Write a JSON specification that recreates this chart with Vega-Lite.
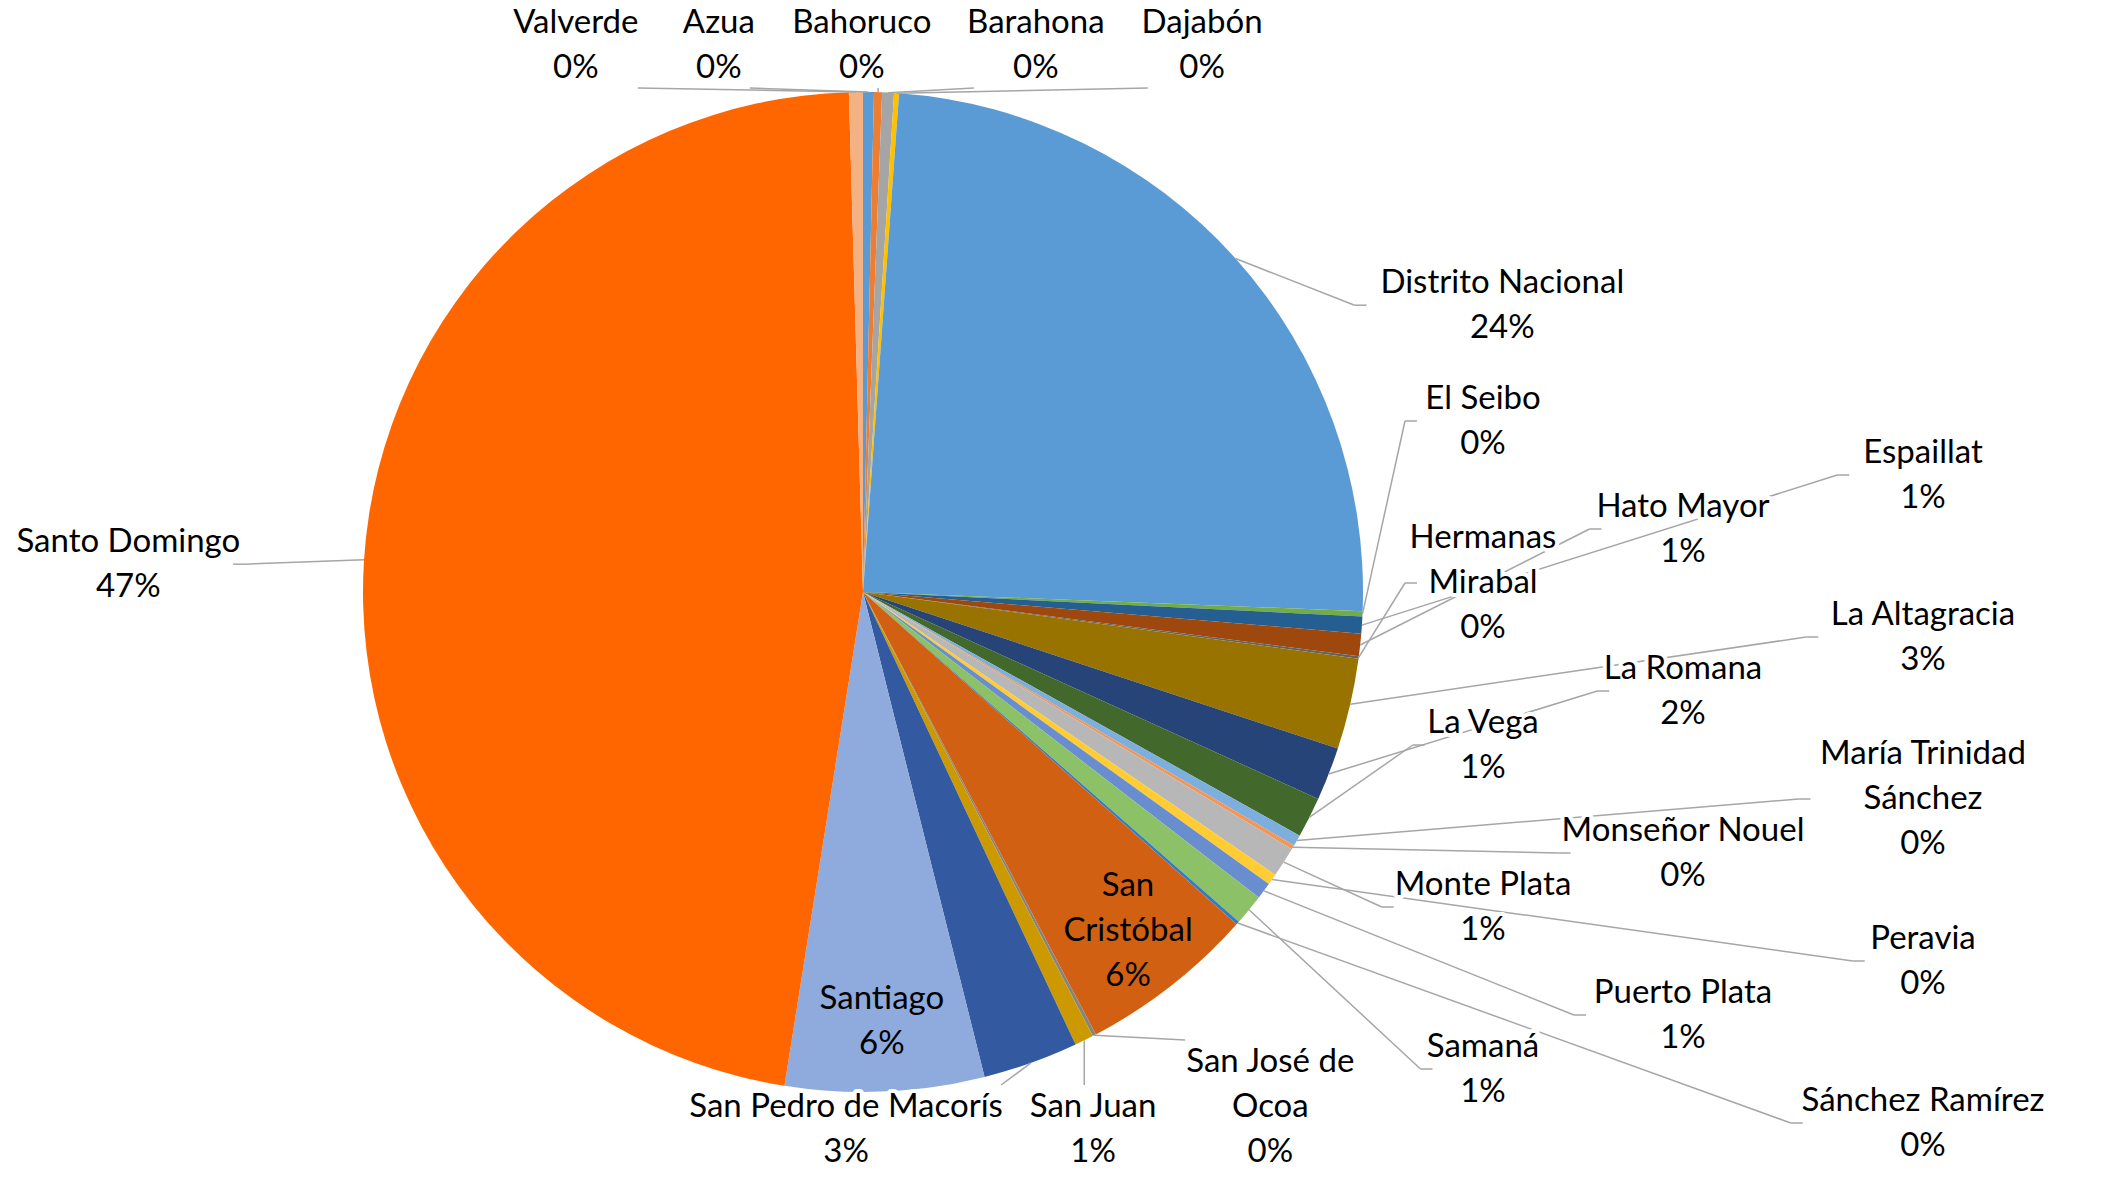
{
  "$schema": "https://vega.github.io/schema/vega-lite/v6.json",
  "width": 2118,
  "height": 1179,
  "autosize": {"type": "none"},
  "padding": 0,
  "background": "#ffffff",
  "config": {"view": {"stroke": null}},
  "data": {
    "values": [
      {"name": "Azua", "value": 0.35},
      {"name": "Bahoruco", "value": 0.26},
      {"name": "Barahona", "value": 0.38},
      {"name": "Dajabón", "value": 0.16},
      {"name": "Distrito Nacional", "value": 24.46},
      {"name": "El Seibo", "value": 0.17},
      {"name": "Espaillat", "value": 0.55},
      {"name": "Hato Mayor", "value": 0.72},
      {"name": "Hermanas Mirabal", "value": 0.08},
      {"name": "La Altagracia", "value": 2.94},
      {"name": "La Romana", "value": 1.72},
      {"name": "La Vega", "value": 1.31},
      {"name": "María Trinidad Sánchez", "value": 0.36},
      {"name": "Monseñor Nouel", "value": 0.14},
      {"name": "Monte Plata", "value": 0.97},
      {"name": "Peravia", "value": 0.36},
      {"name": "Puerto Plata", "value": 0.53},
      {"name": "Samaná", "value": 1.0},
      {"name": "Sánchez Ramírez", "value": 0.11},
      {"name": "San Cristóbal", "value": 5.72},
      {"name": "San José de Ocoa", "value": 0.11},
      {"name": "San Juan", "value": 0.61},
      {"name": "San Pedro de Macorís", "value": 3.08},
      {"name": "Santiago", "value": 6.42},
      {"name": "Santo Domingo", "value": 47.04},
      {"name": "Valverde", "value": 0.45}
    ]
  },
  "transform": [
    {"window": [{"op": "row_number", "as": "idx"}, {"op": "sum", "field": "value", "as": "cum"}], "frame": [null, 0]},
    {"joinaggregate": [{"op": "sum", "field": "value", "as": "total"}]},
    {"calculate": "2 * PI * (datum.cum - datum.value / 2) / datum.total", "as": "a"},
    {"calculate": "datum.value / datum.total", "as": "pct"},
    {"calculate": "datum.a * 180 / PI", "as": "deg"},
    {"calculate": "500 * sin(datum.a)", "as": "ex"},
    {"calculate": "-500 * cos(datum.a)", "as": "ey"},
    {"calculate": "datum.pct >= 0.1 ? 'big' : datum.pct >= 0.05 ? 'in' : (datum.deg > 330 || datum.deg < 30) ? 'top' : (datum.deg >= 140 && datum.deg <= 220) ? 'bot' : 'side'", "as": "zone"},
    {"calculate": "lastindexof(datum.name, ' ')", "as": "sp"},
    {"calculate": "datum.zone == 'in' ? datum.sp > 0 : (datum.pct < 0.005 && length(datum.name) >= 16)", "as": "wrap"},
    {"calculate": "datum.wrap ? slice(datum.name, 0, datum.sp) + '\\n' + slice(datum.name, datum.sp + 1) : datum.name", "as": "nm"},
    {"calculate": "datum.nm + '\\n' + format(datum.pct, '.0%')", "as": "label"},
    {"calculate": "datum.wrap ? 3 : 2", "as": "nl"},
    {"calculate": "15.5 * (datum.wrap ? max(datum.sp, length(datum.name) - datum.sp - 1) : length(datum.name))", "as": "w"},
    {"calculate": "(datum.zone == 'bot' ? 500 : 550) * sin(datum.a)", "as": "xn"},
    {"calculate": "datum.zone == 'side' ? datum.deg : datum.xn", "as": "key"},
    {"window": [{"op": "row_number", "as": "k"}, {"op": "lag", "field": "w", "as": "pw"}], "groupby": ["zone"], "sort": [{"field": "key", "order": "ascending"}]},
    {"calculate": "datum.k == 1 ? 0 : (datum.pw + datum.w) / 2 + (datum.zone == 'top' ? 50 : 30)", "as": "gap"},
    {"window": [{"op": "sum", "field": "gap", "as": "s"}], "groupby": ["zone"], "sort": [{"field": "key", "order": "ascending"}], "frame": [null, 0]},
    {"calculate": "datum.xn - datum.s", "as": "z"},
    {"window": [{"op": "max", "field": "z", "as": "cz"}], "groupby": ["zone"], "sort": [{"field": "key", "order": "ascending"}], "frame": [null, 0]},
    {"calculate": "datum.s + datum.cz", "as": "xa"},
    {"joinaggregate": [{"op": "mean", "field": "xa", "as": "mxa"}, {"op": "mean", "field": "xn", "as": "mxn"}, {"op": "count", "as": "n"}, {"op": "mean", "field": "ey", "as": "mey"}], "groupby": ["zone"]},
    {"calculate": "(datum.k - 1) % 3", "as": "col"},
    {"calculate": "datum.zone == 'in' ? 430 * sin(datum.a) : datum.zone == 'big' ? datum.ex + (datum.ex > 0 ? 1 : -1) * (135 + datum.w / 2) : datum.zone == 'side' ? (datum.col == 0 ? 620 : datum.col == 1 ? 1060 : 820) : datum.xa - datum.mxa + datum.mxn", "as": "lx"},
    {"calculate": "(datum.zone == 'in' || datum.zone == 'big') ? -430 * cos(datum.a) : datum.zone == 'top' ? -569 + (datum.nl - 1) * 22.5 : datum.zone == 'bot' ? 560 - (datum.nl - 1) * 22.5 : datum.mey - 13 + (datum.k - 1 - (datum.n - 1) / 2) * 54", "as": "cy"},
    {"calculate": "datum.cy - (datum.nl - 1) * 22.5", "as": "ly"},
    {"calculate": "datum.lx > datum.ex ? 1 : -1", "as": "dir"},
    {"calculate": "(datum.zone == 'top' || datum.zone == 'bot') ? clamp(datum.ex, datum.lx - datum.w / 2, datum.lx + datum.w / 2) : datum.lx - datum.dir * (datum.w / 2 + 4)", "as": "ax"},
    {"calculate": "datum.zone == 'top' ? datum.cy + (datum.nl - 1) * 22.5 + 20 : datum.zone == 'bot' ? datum.cy - (datum.nl - 1) * 22.5 - 22 : datum.cy", "as": "ay"},
    {"calculate": "(datum.zone == 'top' || datum.zone == 'bot') ? datum.ax : datum.ax - datum.dir * 12", "as": "bx"},
    {"calculate": "datum.ay", "as": "by"}
  ],
  "layer": [
    {
      "mark": {"type": "arc", "outerRadius": 500},
      "encoding": {
        "x": {"datum": 0, "type": "quantitative", "scale": {"domain": [-863, 1255], "nice": false, "zero": false}, "axis": null},
        "y": {"datum": 0, "type": "quantitative", "scale": {"domain": [-592, 587], "reverse": true, "nice": false, "zero": false}, "axis": null},
        "theta": {"field": "value", "type": "quantitative", "stack": true},
        "order": {"field": "idx", "type": "quantitative"},
        "color": {
          "field": "name",
          "type": "nominal",
          "legend": null,
          "scale": {
            "domain": ["Azua", "Bahoruco", "Barahona", "Dajabón", "Distrito Nacional", "El Seibo", "Espaillat", "Hato Mayor", "Hermanas Mirabal", "La Altagracia", "La Romana", "La Vega", "María Trinidad Sánchez", "Monseñor Nouel", "Monte Plata", "Peravia", "Puerto Plata", "Samaná", "Sánchez Ramírez", "San Cristóbal", "San José de Ocoa", "San Juan", "San Pedro de Macorís", "Santiago", "Santo Domingo", "Valverde"],
            "range": ["#5B9BD5", "#ED7D31", "#A5A5A5", "#FFC000", "#5B9BD5", "#70AD47", "#255E91", "#9E480E", "#636363", "#997300", "#264478", "#43682B", "#7CAFDD", "#F1975A", "#B7B7B7", "#FFCD33", "#698ED0", "#8CC168", "#327DC2", "#D26012", "#848484", "#CC9A00", "#335AA1", "#8FAADC", "#FF6600", "#F4B183"]
          }
        }
      }
    },
    {
      "transform": [{"filter": "datum.zone != 'in'"}],
      "mark": {"type": "rule", "color": "#A6A6A6", "strokeWidth": 1.5},
      "encoding": {
        "x": {"field": "ex", "type": "quantitative", "scale": {"domain": [-863, 1255], "nice": false, "zero": false}, "axis": null},
        "y": {"field": "ey", "type": "quantitative", "scale": {"domain": [-592, 587], "reverse": true, "nice": false, "zero": false}, "axis": null},
        "x2": {"field": "bx"},
        "y2": {"field": "by"}
      }
    },
    {
      "transform": [{"filter": "datum.zone != 'in'"}],
      "mark": {"type": "rule", "color": "#A6A6A6", "strokeWidth": 1.5},
      "encoding": {
        "x": {"field": "bx", "type": "quantitative", "scale": {"domain": [-863, 1255], "nice": false, "zero": false}, "axis": null},
        "y": {"field": "by", "type": "quantitative", "scale": {"domain": [-592, 587], "reverse": true, "nice": false, "zero": false}, "axis": null},
        "x2": {"field": "ax"},
        "y2": {"field": "ay"}
      }
    },
    {
      "transform": [{"filter": "datum.zone != 'in'"}],
      "mark": {"type": "text", "font": "Lato", "fontSize": 33, "lineHeight": 45, "lineBreak": "\n", "align": "center", "baseline": "middle", "fill": "#ffffff", "stroke": "#ffffff", "strokeWidth": 8, "strokeJoin": "round"},
      "encoding": {
        "x": {"field": "lx", "type": "quantitative", "scale": {"domain": [-863, 1255], "nice": false, "zero": false}, "axis": null},
        "y": {"field": "ly", "type": "quantitative", "scale": {"domain": [-592, 587], "reverse": true, "nice": false, "zero": false}, "axis": null},
        "text": {"field": "label"}
      }
    },
    {
      "mark": {"type": "text", "font": "Lato", "fontSize": 33, "lineHeight": 45, "lineBreak": "\n", "align": "center", "baseline": "middle", "color": "#000000"},
      "encoding": {
        "x": {"field": "lx", "type": "quantitative", "scale": {"domain": [-863, 1255], "nice": false, "zero": false}, "axis": null},
        "y": {"field": "ly", "type": "quantitative", "scale": {"domain": [-592, 587], "reverse": true, "nice": false, "zero": false}, "axis": null},
        "text": {"field": "label"}
      }
    }
  ]
}
